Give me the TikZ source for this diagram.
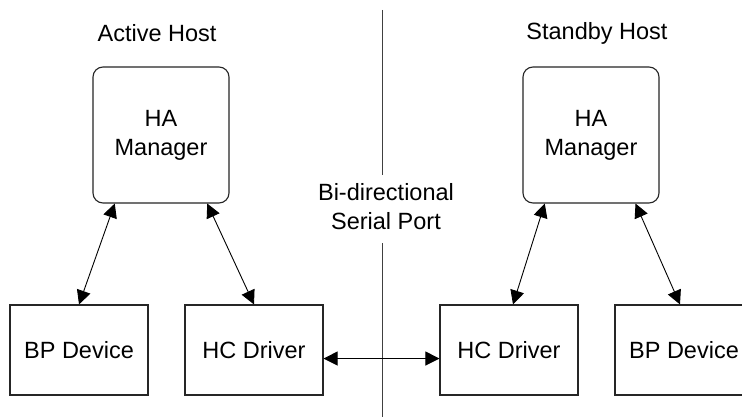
\documentclass[tikz,border=0pt]{standalone}
\usepackage{fontspec}
\setmainfont{Liberation Sans}
\usetikzlibrary{arrows.meta}
\begin{document}
\begin{tikzpicture}[x=1pt,y=-1pt,
  every node/.style={font=\fontsize{23.5}{29}\selectfont, text=black},
  mgr/.style={draw=black!85, line width=1.1pt, rounded corners=10pt, minimum width=136pt, minimum height=136pt, align=center, inner sep=0pt},
  blk/.style={draw=black!85, line width=1.1pt, minimum width=138pt, minimum height=90pt, inner sep=0pt},
  conn/.style={draw=black, line width=0.9pt, {Triangle[length=14pt,width=14pt]}-{Triangle[length=14pt,width=14pt]}},
  divider/.style={draw=black!75, line width=1pt},
  title/.style={inner sep=0pt}]
\useasboundingbox (0,0) rectangle (742,417);
\fill[white] (0,0) rectangle (742,417);

\node[title] (tA) at (157,33) {Active Host};
\node[title] (tS) at (597,33) {Standby Host};

\node[mgr] (haL) at (161,135) {HA\\Manager};
\node[mgr] (haR) at (591,135) {HA\\Manager};

\node[blk] (bpL) at (79,350) {BP Device};
\node[blk] (hcL) at (254,350) {HC Driver};
\node[blk] (hcR) at (509,350) {HC Driver};
\node[blk] (bpR) at (684,350) {BP Device};

\node[align=center, inner sep=0pt] (port) at (386,207) {Bi-directional\\Serial Port};

\coordinate (d1) at (382,10);
\coordinate (d2) at (382,175);
\coordinate (d3) at (382,243);
\coordinate (d4) at (382,417);
\draw[divider] (d1) -- (d2);
\draw[divider] (d3) -- (d4);

\draw[conn] (haL.236) -- (bpL.north);
\draw[conn] (haL.304) -- (hcL.north);
\draw[conn] (haR.236) -- (hcR.85);
\draw[conn] (haR.303) -- (bpR.95);
\draw[conn] (hcL.-7) -- (hcR.187);
\end{tikzpicture}
\end{document}
